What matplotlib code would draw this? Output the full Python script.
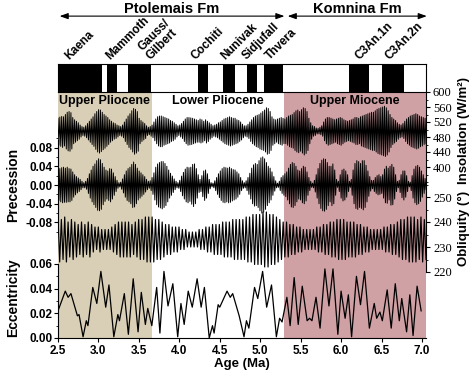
import numpy as np
import matplotlib
matplotlib.use('Agg')
import matplotlib.pyplot as plt
from matplotlib.ticker import MultipleLocator

plt.rcParams['font.family'] = ['Liberation Sans', 'DejaVu Sans']

# ---- data ----
x_min, x_max = 2.5, 7.05

era_names = ['Upper Pliocene', 'Lower Pliocene', 'Upper Miocene']
era_start = [2.5, 3.66, 5.30]
era_end = [3.66, 5.30, 7.05]
era_colors = ['#d9cfb7', 'white', '#cfa0a4']

# normal polarity chrons (black boxes), Ma
normal_start = [2.50, 3.11, 3.37, 4.23, 4.54, 4.84, 5.05, 6.10, 6.50]
normal_end = [3.04, 3.23, 3.65, 4.35, 4.69, 4.96, 5.28, 6.34, 6.78]

chron_names = ['Kaena', 'Mammoth', 'Gauss/\nGilbert', 'Cochiti', 'Nunivak',
               'Sidjufall', 'Thvera', 'C3An.1n', 'C3An.2n']
chron_ages = [2.67, 3.17, 3.67, 4.23, 4.59, 4.86, 5.15, 6.25, 6.63]

fm_names = ['Ptolemais Fm', 'Komnina Fm']
fm_start = [2.52, 5.34]
fm_end = [5.30, 7.06]

# insolation (W/m2), successive maxima / minima
insolation = [
    530, 458, 533, 455, 535, 452, 534, 456, 540, 448, 546, 443, 548, 442, 545, 448,
    532, 462, 526, 466, 522, 470, 518, 474, 512, 480, 508, 484, 506, 482, 510, 478,
    516, 472, 522, 466, 528, 460, 534, 455, 542, 447, 548, 440, 553, 437, 552, 441,
    546, 446, 540, 450, 536, 455, 532, 460, 526, 466, 522, 470, 518, 474, 516, 476,
    512, 480, 510, 484, 508, 482, 512, 478, 520, 468, 528, 460, 536, 452, 542, 447,
    550, 440, 556, 434, 554, 437, 548, 442, 530, 462, 524, 468, 520, 472, 516, 476,
    510, 484, 506, 486, 508, 482, 512, 478, 520, 470, 528, 462, 534, 456, 536, 454,
    536, 454, 534, 458, 532, 460, 530, 462, 528, 464, 524, 468, 522, 470, 518, 474,
    514, 480, 510, 484, 512, 480, 516, 476, 522, 468, 528, 462, 532, 458, 532, 459,
    531, 460, 530, 462, 528, 464, 526, 466, 524, 466, 528, 464, 526, 466, 522, 470,
    526, 464, 522, 468, 518, 474, 514, 478, 510, 482, 512, 480, 514, 478, 518, 474,
    520, 470, 524, 466, 528, 462, 530, 460, 532, 458, 534, 456, 532, 458, 530, 460,
    530, 462, 526, 464, 524, 468, 520, 472, 514, 478, 510, 482, 510, 480, 514, 476,
    520, 468, 526, 462, 532, 458, 536, 454, 538, 452, 540, 448, 544, 446, 548, 444,
    552, 440, 558, 434, 556, 436, 548, 444, 534, 458, 528, 462, 526, 466, 528, 462,
    530, 460, 532, 458, 530, 462, 528, 462, 532, 458, 536, 454, 538, 452, 540, 450,
    545, 444, 550, 440, 552, 438, 548, 442, 553, 437, 558, 432, 556, 436, 548, 444,
    530, 462, 518, 474, 510, 482, 508, 484, 504, 488, 503, 488, 506, 486, 510, 482,
    520, 470, 528, 462, 532, 458, 532, 460, 530, 462, 528, 464, 526, 466, 528, 462,
    530, 460, 532, 458, 530, 462, 526, 466, 524, 468, 522, 470, 524, 468, 526, 466,
    528, 464, 532, 460, 532, 460, 530, 462, 534, 456, 536, 454, 538, 452, 540, 450,
    542, 448, 544, 446, 546, 444, 546, 444, 550, 440, 554, 436, 556, 434, 558, 432,
    560, 430, 562, 428, 558, 432, 550, 440, 540, 452, 532, 460, 528, 464, 524, 468,
    518, 474, 514, 478, 512, 480, 516, 476, 522, 468, 528, 462, 532, 458, 536, 454,
    538, 452, 540, 450, 542, 448, 540, 450, 536, 454, 534, 456, 532, 460, 530, 462,
]

# precession index x 1000, successive maxima / minima
precession_milli = [
    30, -33, 35, -36, 37, -38, 38, -37, 36, -37, 38, -36, 35, -36, 34, -33,
    28, -26, 22, -21, 18, -17, 15, -14, 12, -10, 8, -6, 5, -6, 8, -9,
    14, -18, 24, -28, 32, -36, 40, -42, 45, -48, 52, -54, 56, -55, 54, -52,
    46, -42, 38, -35, 32, -30, 30, -33, 35, -36, 34, -30, 26, -22, 18, -14,
    10, -7, 5, -4, 6, -9, 13, -17, 22, -26, 30, -33, 35, -36, 38, -40,
    44, -48, 49, -47, 44, -40, 36, -32, 30, -28, 26, -24, 22, -20, 18, -15,
    12, -10, 8, -7, 9, -12, 16, -20, 26, -32, 38, -42, 45, -47, 48, -49,
    50, -51, 50, -48, 46, -44, 40, -36, 32, -28, 25, -22, 19, -16, 13, -10,
    8, -6, 5, -7, 10, -14, 19, -23, 27, -30, 34, -36, 38, -38, 37, -35,
    38, -41, 44, -46, 45, -40, 35, -28, 22, -16, 12, -14, 20, -25, 30, -33,
    32, -28, 24, -18, 12, -8, 5, -4, 4, -6, 9, -12, 16, -20, 24, -27,
    30, -33, 35, -37, 38, -38, 37, -36, 36, -38, 38, -37, 35, -34, 33, -32,
    32, -30, 28, -26, 24, -20, 16, -12, 9, -7, 5, -6, 9, -12, 16, -20,
    25, -30, 36, -40, 43, -45, 46, -44, 44, -48, 52, -55, 58, -60, 60, -58,
    56, -52, 48, -44, 40, -38, 36, -32, 28, -22, 18, -13, 9, -6, 4, -5,
    8, -12, 16, -18, 20, -22, 24, -25, 28, -32, 36, -40, 44, -47, 48, -48,
    46, -44, 40, -36, 32, -30, 30, -32, 35, -38, 40, -40, 38, -34, 28, -22,
    16, -12, 8, -5, 4, -6, 10, -15, 22, -28, 35, -40, 46, -50, 53, -55,
    56, -56, 55, -52, 48, -44, 40, -36, 40, -44, 45, -40, 32, -22, 12, -5,
    8, -14, 22, -28, 32, -34, 34, -32, 30, -26, 22, -14, 8, -5, 12, -22,
    32, -40, 46, -50, 52, -52, 50, -48, 46, -50, 52, -53, 52, -48, 42, -36,
    30, -24, 18, -13, 10, -8, 10, -14, 16, -18, 20, -21, 22, -20, 18, -18,
    22, -28, 34, -38, 40, -39, 36, -32, 40, -43, 44, -42, 38, -30, 22, -14,
    8, -6, 10, -16, 22, -27, 30, -32, 30, -26, 20, -14, 8, -4, 6, -12,
    20, -28, 34, -38, 40, -42, 42, -40, 38, -35, 30, -26, 22, -18, 14, -10,
]

# obliquity (axis units), successive maxima / minima
obliquity = [
    242, 224, 241, 225, 242, 224, 240, 226, 241, 225,
    240, 226, 239, 227, 240, 226, 239, 227, 240, 226,
    239, 228, 238, 229, 238, 228, 237, 229, 237, 229,
    237, 229, 238, 228, 239, 227, 240, 226, 240, 226,
    240, 226, 240, 226, 239, 227, 240, 226, 241, 225,
    241, 225, 242, 224, 242, 224, 242, 224, 241, 225,
    241, 225, 240, 226, 239, 227, 239, 227, 238, 228,
    238, 228, 238, 229, 237, 229, 237, 230, 236, 230,
    236, 230, 236, 230, 237, 229, 237, 229, 238, 228,
    238, 228, 239, 227, 239, 227, 239, 227, 240, 226,
    240, 226, 240, 226, 241, 225, 241, 225, 241, 225,
    241, 225, 242, 224, 242, 224, 243, 223, 243, 223,
    243, 223, 244, 222, 244, 222, 243, 223, 243, 223,
    242, 224, 241, 225, 240, 226, 240, 226, 239, 227,
    239, 227, 238, 228, 238, 228, 237, 229, 237, 229,
    237, 229, 237, 229, 238, 228, 238, 228, 239, 227,
    239, 227, 240, 226, 240, 226, 241, 225, 241, 225,
    241, 225, 240, 226, 240, 226, 240, 226, 239, 227,
    239, 227, 238, 228, 238, 228, 237, 229, 237, 229,
    237, 229, 237, 229, 238, 228, 238, 228, 239, 227,
    239, 227, 240, 226, 241, 225, 241, 225, 242, 224,
    242, 224, 242, 224, 241, 225, 242, 224, 241, 225,
]

ecc_age = [2.50, 2.59, 2.625, 2.66, 2.74, 2.76, 2.81, 2.85, 2.87, 2.93, 2.98, 3.03,
           3.09, 3.13, 3.19, 3.24, 3.26, 3.32, 3.37, 3.43, 3.49, 3.53, 3.58, 3.61,
           3.66, 3.72, 3.76, 3.81, 3.86, 3.92, 3.98, 4.02, 4.06, 4.11, 4.16, 4.22,
           4.27, 4.31, 4.37, 4.41, 4.43, 4.48, 4.50, 4.59, 4.63, 4.66, 4.74, 4.80,
           4.83, 4.86, 4.93, 4.97, 5.03, 5.08, 5.14, 5.20, 5.24, 5.27, 5.33, 5.37,
           5.42, 5.47, 5.52, 5.58, 5.61, 5.64, 5.69, 5.74, 5.80, 5.85, 5.90, 5.96,
           6.00, 6.05, 6.09, 6.13, 6.19, 6.24, 6.29, 6.35, 6.41, 6.44, 6.48, 6.51,
           6.57, 6.62, 6.67, 6.72, 6.75, 6.81, 6.85, 6.89, 6.94, 6.99]
eccentricity = [0.022, 0.038, 0.033, 0.036, 0.018, 0.019, 0.001, 0.014, 0.010, 0.041, 0.028, 0.054,
                0.025, 0.043, 0.001, 0.019, 0.014, 0.036, 0.003, 0.048, 0.005, 0.037, 0.011, 0.024,
                0.010, 0.041, 0.004, 0.054, 0.026, 0.044, 0.001, 0.028, 0.011, 0.038, 0.025, 0.048,
                0.025, 0.041, 0.000, 0.010, 0.004, 0.027, 0.025, 0.038, 0.033, 0.036, 0.018, 0.001,
                0.014, 0.008, 0.041, 0.032, 0.054, 0.025, 0.043, 0.001, 0.016, 0.013, 0.033, 0.010,
                0.049, 0.011, 0.042, 0.014, 0.016, 0.014, 0.033, 0.008, 0.056, 0.026, 0.056, 0.003,
                0.038, 0.016, 0.035, 0.001, 0.050, 0.027, 0.054, 0.008, 0.028, 0.016, 0.021, 0.014,
                0.039, 0.008, 0.044, 0.014, 0.032, 0.005, 0.035, 0.002, 0.042, 0.022]

age_ticks = [2.5, 3.0, 3.5, 4.0, 4.5, 5.0, 5.5, 6.0, 6.5, 7.0]

# ---- layout in pixels of a 474x373 image ----
W, H = 474, 373
fig = plt.figure(figsize=(W / 100, H / 100), dpi=100)


def px_axes(left, top, right, bottom):
    return fig.add_axes([left / W, 1 - bottom / H, (right - left) / W, (bottom - top) / H])


AX_L, AX_R = 58, 426
bold = dict(fontweight='bold')

# background panel: period shading + age axis
ax = px_axes(AX_L, 92, AX_R, 338)
for s, e, c in zip(era_start, era_end, era_colors):
    ax.axvspan(s, e, color=c, lw=0, zorder=0)
for name, s, e in zip(era_names, era_start, era_end):
    ax.text((s + e) / 2, 0.963, name, ha='center', va='center', fontsize=9, **bold)
ax.set_xlim(x_min, x_max)
ax.set_ylim(0, 1)
ax.set_yticks([])
for sp in ['top', 'left', 'right']:
    ax.spines[sp].set_visible(False)
ax.spines['bottom'].set_linewidth(0.8)
ax.set_xticks(age_ticks)
ax.set_xticklabels([f'{t:.1f}' for t in age_ticks], fontsize=8.5, fontweight='bold')
ax.tick_params(axis='x', length=3, width=0.8, pad=2)
ax.set_xlabel('Age (Ma)', fontsize=9.5, fontweight='bold', labelpad=1)


def overlay(left, top, right, bottom):
    a = px_axes(left, top, right, bottom)
    a.patch.set_visible(False)
    a.set_xlim(x_min, x_max)
    a.set_xticks([])
    for sp in a.spines.values():
        sp.set_visible(False)
    return a


# eccentricity
ax_e = overlay(AX_L, 264, AX_R, 338)
ax_e.plot(ecc_age, eccentricity, color='black', lw=0.9)
ax_e.set_ylim(0, 0.06)
ax_e.spines['left'].set_visible(True)
ax_e.spines['left'].set_linewidth(0.8)
ax_e.yaxis.set_major_locator(MultipleLocator(0.02))
ax_e.yaxis.set_minor_locator(MultipleLocator(0.01))
ax_e.set_yticklabels([f'{v:.2f}' for v in ax_e.get_yticks()], fontsize=8.5, fontweight='bold')
ax_e.tick_params(axis='y', which='major', length=3, width=0.8, pad=1)
ax_e.tick_params(axis='y', which='minor', length=1.5, width=0.6)
ax_e.set_ylim(0, 0.06)

# precession
ax_p = overlay(AX_L, 135, AX_R, 235)
prec = np.array(precession_milli) / 1000
ax_p.plot(np.linspace(x_min, x_max, len(prec)), prec, color='black', lw=0.7)
ax_p.set_ylim(-0.1067, 0.1067)
ax_p.spines['left'].set_visible(True)
ax_p.spines['left'].set_linewidth(0.8)
ax_p.spines['left'].set_bounds(-0.095, 0.095)
ax_p.set_yticks([-0.08, -0.04, 0.0, 0.04, 0.08])
ax_p.set_yticklabels(['-0.08', '-0.04', '0.00', '0.04', '0.08'], fontsize=8.5, fontweight='bold')
ax_p.yaxis.set_minor_locator(MultipleLocator(0.02))
ax_p.tick_params(axis='y', which='major', length=3, width=0.8, pad=1)
ax_p.tick_params(axis='y', which='minor', length=1.5, width=0.6)

# insolation (right scale)
ax_i = overlay(AX_L, 92, AX_R, 182)
ax_i.plot(np.linspace(x_min, x_max, len(insolation)), insolation, color='black', lw=0.7)
ax_i.set_ylim(360, 600)
ax_i.yaxis.tick_right()
ax_i.spines['right'].set_visible(True)
ax_i.spines['right'].set_linewidth(0.8)
ax_i.set_yticks([400, 440, 480, 520, 560, 600])
ax_i.yaxis.set_minor_locator(MultipleLocator(20))
ax_i.tick_params(axis='y', which='major', length=3, width=0.8, pad=2)
ax_i.tick_params(axis='y', which='minor', length=1.5, width=0.6)
for lab in ax_i.get_yticklabels():
    lab.set_fontfamily('Liberation Serif')
    lab.set_fontsize(9)

# obliquity (right scale)
ax_o = overlay(AX_L, 182, AX_R, 272)
ax_o.plot(np.linspace(x_min, x_max, len(obliquity)), obliquity, color='black', lw=0.85)
ax_o.set_ylim(220, 256)
ax_o.yaxis.tick_right()
ax_o.spines['right'].set_visible(True)
ax_o.spines['right'].set_linewidth(0.8)
ax_o.set_yticks([220, 230, 240, 250])
ax_o.yaxis.set_minor_locator(MultipleLocator(5))
ax_o.tick_params(axis='y', which='major', length=3, width=0.8, pad=2)
ax_o.tick_params(axis='y', which='minor', length=1.5, width=0.6)
for lab in ax_o.get_yticklabels():
    lab.set_fontfamily('Liberation Serif')
    lab.set_fontsize(9)

# axis titles
fig.text(13 / W, 1 - 185 / H, 'Precession', rotation=90, ha='center', va='center', fontsize=10, **bold)
fig.text(13 / W, 1 - 298 / H, 'Eccentricity', rotation=90, ha='center', va='center', fontsize=10, **bold)
fig.text(464 / W, 1 - 130 / H, 'Insolation (W/m²)', rotation=90, ha='center', va='center', fontsize=9.5, **bold)
fig.text(464 / W, 1 - 228 / H, 'Obliquity (°)', rotation=90, ha='center', va='center', fontsize=9.5, **bold)

# polarity bar
ax_b = px_axes(AX_L, 64, AX_R, 92)
ax_b.set_xlim(x_min, x_max)
ax_b.set_ylim(0, 1)
ax_b.set_xticks([])
ax_b.set_yticks([])
for sp in ax_b.spines.values():
    sp.set_linewidth(0.8)
for s, e in zip(normal_start, normal_end):
    ax_b.axvspan(s, e, color='black', lw=0)
for name, a in zip(chron_names, chron_ages):
    ax_b.text(a, 1.07, name, rotation=45, rotation_mode='anchor', ha='left', va='bottom',
              fontsize=8.5, linespacing=1.0, clip_on=False, **bold)

# formation arrows
for name, s, e in zip(fm_names, fm_start, fm_end):
    ax_b.annotate('', xy=(e, 2.71), xytext=(s, 2.71), xycoords=('data', 'axes fraction'),
                  arrowprops=dict(arrowstyle='<|-|>,head_length=0.5,head_width=0.18',
                                  color='black', lw=0.8, shrinkA=0, shrinkB=0))
    ax_b.text((s + e) / 2, 2.97, name, transform=ax_b.get_xaxis_transform(), ha='center',
              va='center', fontsize=10.5, **bold)

fig.savefig('out.png', dpi=100)
